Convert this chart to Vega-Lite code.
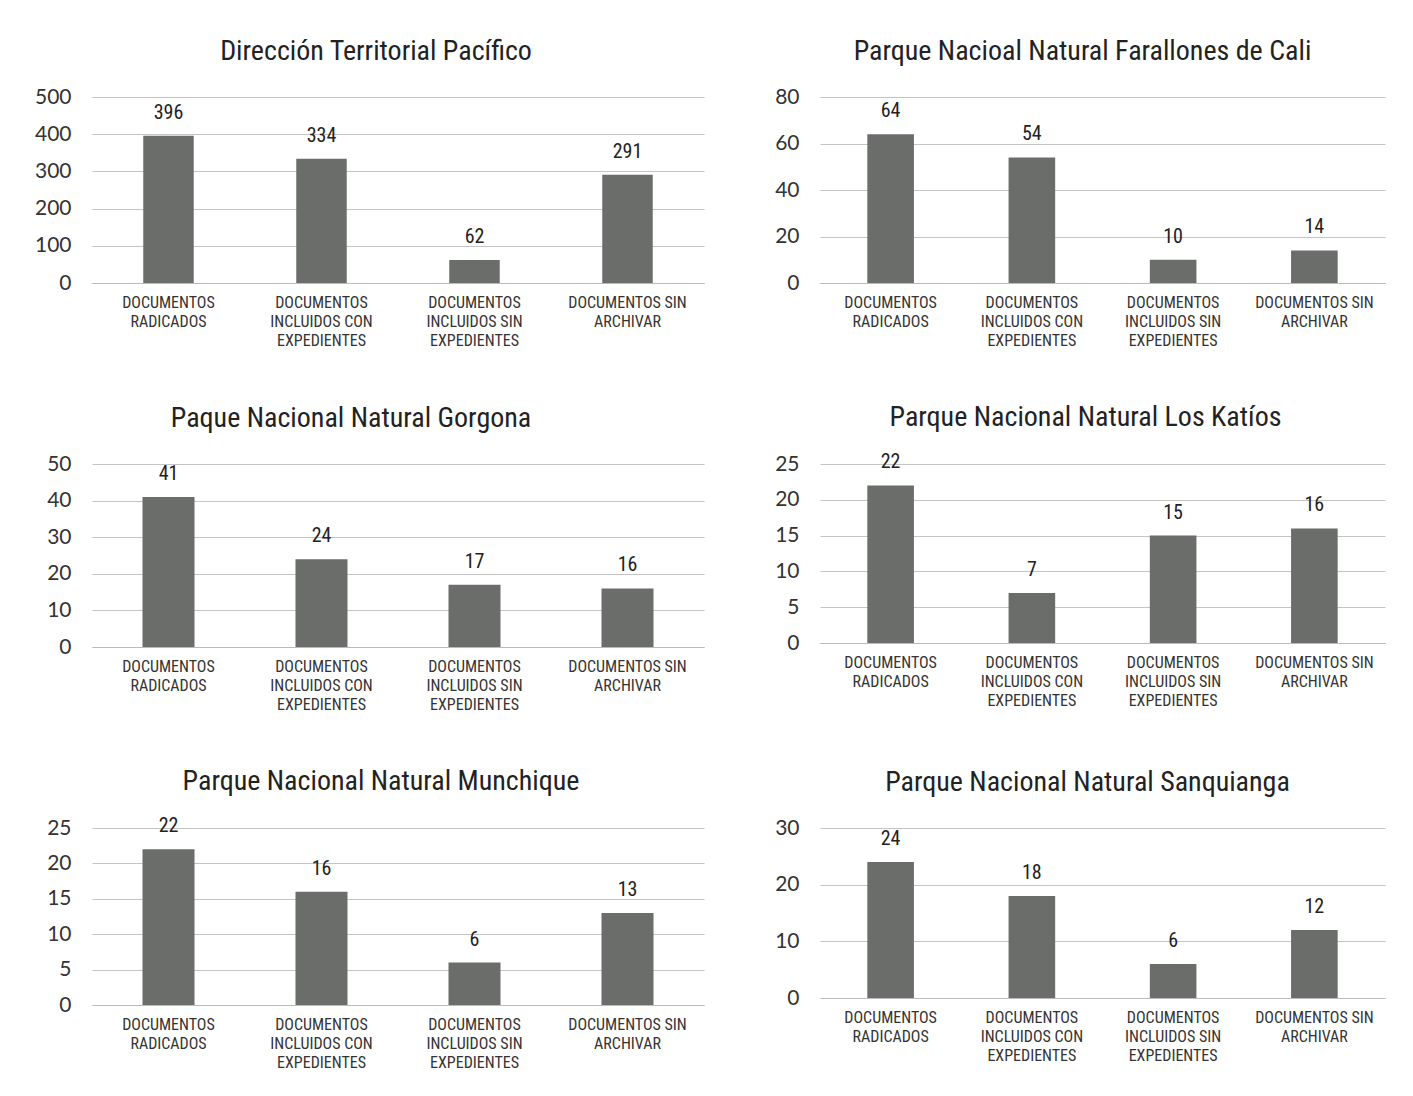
{
  "$schema": "https://vega.github.io/schema/vega-lite/v6.json",
  "padding": {"left": 34, "top": 38, "right": 12, "bottom": 5},
  "background": "white",
  "data": {"values": [
    {"panel": 1, "cat": "DOCUMENTOS RADICADOS", "value": 396},
    {"panel": 1, "cat": "DOCUMENTOS INCLUIDOS CON EXPEDIENTES", "value": 334},
    {"panel": 1, "cat": "DOCUMENTOS INCLUIDOS SIN EXPEDIENTES", "value": 62},
    {"panel": 1, "cat": "DOCUMENTOS SIN ARCHIVAR", "value": 291},
    {"panel": 2, "cat": "DOCUMENTOS RADICADOS", "value": 64},
    {"panel": 2, "cat": "DOCUMENTOS INCLUIDOS CON EXPEDIENTES", "value": 54},
    {"panel": 2, "cat": "DOCUMENTOS INCLUIDOS SIN EXPEDIENTES", "value": 10},
    {"panel": 2, "cat": "DOCUMENTOS SIN ARCHIVAR", "value": 14},
    {"panel": 3, "cat": "DOCUMENTOS RADICADOS", "value": 41},
    {"panel": 3, "cat": "DOCUMENTOS INCLUIDOS CON EXPEDIENTES", "value": 24},
    {"panel": 3, "cat": "DOCUMENTOS INCLUIDOS SIN EXPEDIENTES", "value": 17},
    {"panel": 3, "cat": "DOCUMENTOS SIN ARCHIVAR", "value": 16},
    {"panel": 4, "cat": "DOCUMENTOS RADICADOS", "value": 22},
    {"panel": 4, "cat": "DOCUMENTOS INCLUIDOS CON EXPEDIENTES", "value": 7},
    {"panel": 4, "cat": "DOCUMENTOS INCLUIDOS SIN EXPEDIENTES", "value": 15},
    {"panel": 4, "cat": "DOCUMENTOS SIN ARCHIVAR", "value": 16},
    {"panel": 5, "cat": "DOCUMENTOS RADICADOS", "value": 22},
    {"panel": 5, "cat": "DOCUMENTOS INCLUIDOS CON EXPEDIENTES", "value": 16},
    {"panel": 5, "cat": "DOCUMENTOS INCLUIDOS SIN EXPEDIENTES", "value": 6},
    {"panel": 5, "cat": "DOCUMENTOS SIN ARCHIVAR", "value": 13},
    {"panel": 6, "cat": "DOCUMENTOS RADICADOS", "value": 24},
    {"panel": 6, "cat": "DOCUMENTOS INCLUIDOS CON EXPEDIENTES", "value": 18},
    {"panel": 6, "cat": "DOCUMENTOS INCLUIDOS SIN EXPEDIENTES", "value": 6},
    {"panel": 6, "cat": "DOCUMENTOS SIN ARCHIVAR", "value": 12}
  ]},
  "columns": 2,
  "spacing": {"row": 56, "column": 70},
  "config": {
    "view": {"stroke": null},
    "title": {"font": "Liberation Sans Narrow, Roboto Condensed, Roboto", "fontSize": 28, "fontWeight": "normal", "color": "#222", "offset": 20, "anchor": "middle"},
    "axisX": {"title": null, "labelAngle": 0, "labelFont": "Liberation Sans Narrow, Roboto Condensed, Roboto", "labelFontSize": 16, "labelColor": "#333", "labelLineHeight": 19, "labelPadding": 11, "ticks": false, "domain": true, "domainColor": "#bbb", "grid": false,
      "labelExpr": "datum.value == 'DOCUMENTOS RADICADOS' ? ['DOCUMENTOS','RADICADOS'] : datum.value == 'DOCUMENTOS INCLUIDOS CON EXPEDIENTES' ? ['DOCUMENTOS','INCLUIDOS CON','EXPEDIENTES'] : datum.value == 'DOCUMENTOS INCLUIDOS SIN EXPEDIENTES' ? ['DOCUMENTOS','INCLUIDOS SIN','EXPEDIENTES'] : ['DOCUMENTOS SIN','ARCHIVAR']"},
    "axisY": {"title": null, "labelFont": "Lato", "labelFontSize": 21, "labelColor": "#333", "labelPadding": 21, "ticks": false, "domain": false, "gridColor": "#c4c4c4", "gridWidth": 1.2},
    "bar": {"color": "#6b6d6b"},
    "text": {"font": "Liberation Sans Narrow, Roboto Condensed, Roboto", "fontSize": 20, "color": "#222", "baseline": "bottom", "dy": -13}
  },
  "concat": [
    {
      "title": {"text": "Dirección Territorial Pacífico", "dx": -22},
      "width": 612, "height": 186,
      "transform": [{"filter": "datum.panel == 1"}],
      "encoding": {
        "x": {"field": "cat", "type": "nominal", "sort": null, "scale": {"paddingInner": 0.67, "paddingOuter": 0.335}},
        "y": {"field": "value", "type": "quantitative", "scale": {"domain": [0, 500]}, "axis": {"values": [0, 100, 200, 300, 400, 500]}}
      },
      "layer": [{"mark": "bar"}, {"mark": "text", "encoding": {"text": {"field": "value"}}}]
    },
    {
      "title": {"text": "Parque Nacioal Natural Farallones de Cali", "dx": -20},
      "width": 565, "height": 186,
      "transform": [{"filter": "datum.panel == 2"}],
      "encoding": {
        "x": {"field": "cat", "type": "nominal", "sort": null, "scale": {"paddingInner": 0.67, "paddingOuter": 0.335}},
        "y": {"field": "value", "type": "quantitative", "scale": {"domain": [0, 80]}, "axis": {"values": [0, 20, 40, 60, 80]}}
      },
      "layer": [{"mark": "bar"}, {"mark": "text", "encoding": {"text": {"field": "value"}}}]
    },
    {
      "title": {"text": "Paque Nacional Natural Gorgona", "dx": -47},
      "width": 612, "height": 183,
      "transform": [{"filter": "datum.panel == 3"}],
      "encoding": {
        "x": {"field": "cat", "type": "nominal", "sort": null, "scale": {"paddingInner": 0.66, "paddingOuter": 0.33}},
        "y": {"field": "value", "type": "quantitative", "scale": {"domain": [0, 50]}, "axis": {"values": [0, 10, 20, 30, 40, 50]}}
      },
      "layer": [{"mark": "bar"}, {"mark": "text", "encoding": {"text": {"field": "value"}}}]
    },
    {
      "title": {"text": "Parque Nacional Natural Los Katíos", "dx": -17},
      "width": 565, "height": 179,
      "transform": [{"filter": "datum.panel == 4"}],
      "encoding": {
        "x": {"field": "cat", "type": "nominal", "sort": null, "scale": {"paddingInner": 0.67, "paddingOuter": 0.335}},
        "y": {"field": "value", "type": "quantitative", "scale": {"domain": [0, 25]}, "axis": {"values": [0, 5, 10, 15, 20, 25]}}
      },
      "layer": [{"mark": "bar"}, {"mark": "text", "encoding": {"text": {"field": "value"}}}]
    },
    {
      "title": {"text": "Parque Nacional Natural Munchique", "dx": -17},
      "width": 612, "height": 177,
      "transform": [{"filter": "datum.panel == 5"}],
      "encoding": {
        "x": {"field": "cat", "type": "nominal", "sort": null, "scale": {"paddingInner": 0.66, "paddingOuter": 0.33}},
        "y": {"field": "value", "type": "quantitative", "scale": {"domain": [0, 25]}, "axis": {"values": [0, 5, 10, 15, 20, 25]}}
      },
      "layer": [{"mark": "bar"}, {"mark": "text", "encoding": {"text": {"field": "value"}}}]
    },
    {
      "title": {"text": "Parque Nacional Natural Sanquianga", "dx": -15},
      "width": 565, "height": 170,
      "transform": [{"filter": "datum.panel == 6"}],
      "encoding": {
        "x": {"field": "cat", "type": "nominal", "sort": null, "scale": {"paddingInner": 0.67, "paddingOuter": 0.335}},
        "y": {"field": "value", "type": "quantitative", "scale": {"domain": [0, 30]}, "axis": {"values": [0, 10, 20, 30]}}
      },
      "layer": [{"mark": "bar"}, {"mark": "text", "encoding": {"text": {"field": "value"}}}]
    }
  ]
}
